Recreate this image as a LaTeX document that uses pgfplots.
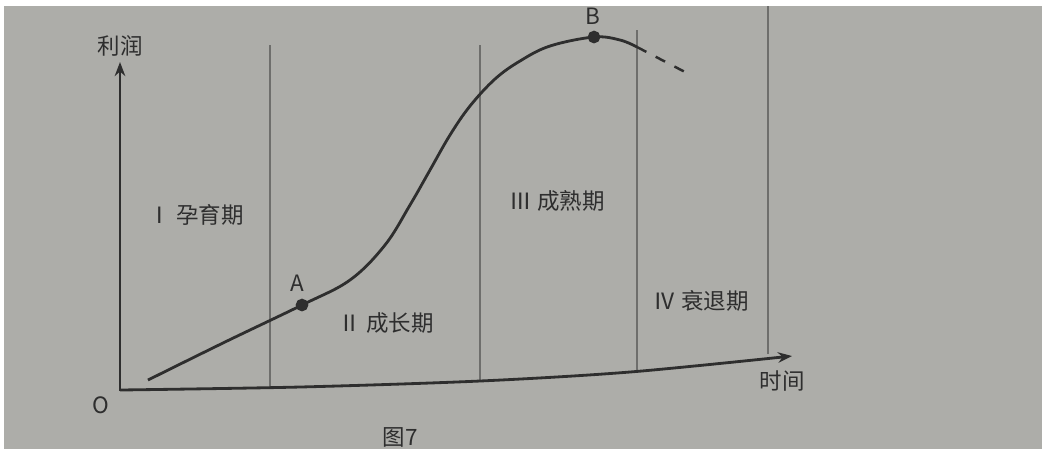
\documentclass[border=0pt]{standalone}
\usepackage{pgfplots}
\pgfplotsset{compat=1.18}
\usepackage{fontspec}
\setmainfont{Liberation Serif}
\newfontfamily\cjk{Noto Sans CJK SC}
\usetikzlibrary{arrows.meta}
\definecolor{paper}{HTML}{ADADA9}
\definecolor{ink}{HTML}{2E2E2E}
\definecolor{rule}{HTML}{6E6E6C}
\newcommand{\lbl}{\cjk\fontsize{6.4}{7}\selectfont}
\begin{document}
\begin{tikzpicture}
\begin{axis}[
    scale only axis,
    width=10.48cm, height=4.49cm,
    xmin=0, xmax=1048, ymin=0, ymax=449,
    y dir=reverse,
    axis lines=none,
    clip=false,
]
% paper
\fill[paper] (axis cs:4,6) rectangle (axis cs:1042,449);

% stage dividers
\addplot[rule, line width=0.35pt] coordinates {(270,45)(270,387)};
\addplot[rule, line width=0.35pt] coordinates {(480,45)(480,380)};
\addplot[rule, line width=0.35pt] coordinates {(637,30)(637,371)};
\addplot[rule, line width=0.35pt] coordinates {(768,6)(768,354)};

% axes
\addplot[ink, line width=0.8pt, -{Stealth[length=4pt,width=3pt]}] coordinates {(120,391)(120,62)};
\addplot[ink, line width=0.8pt, smooth, -{Stealth[length=4pt,width=3pt]}] coordinates {
  (120,390)(300,387)(480,381)(630,372)(792,356)
};

% life-cycle curve
\addplot[ink, line width=0.8pt, smooth, tension=0.6] coordinates {
  (148,380)(225,342)(302,305)(350,280)(385,245)(410,205)(430,170)(450,135)
  (470,106)(495,79)(520,61)(550,46)(594,37)(620,40)(637,47)
};
\addplot[ink, line width=0.7pt, dashed, smooth] coordinates {
  (637,47)(660,59)(685,72)
};
\addplot[only marks, mark=*, mark size=1.6pt, ink] coordinates {(302,305)(594,37)};

% labels
\node[text=ink] at (axis cs:120,46) {\lbl 利润};
\node[text=ink] at (axis cs:101,405) {\lbl O};
\node[text=ink] at (axis cs:782,381) {\lbl 时间};
\node[text=ink] at (axis cs:297,283) {\lbl A};
\node[text=ink] at (axis cs:593,16) {\lbl B};
\node[text=ink] at (axis cs:196,215) {\lbl Ⅰ 孕育期};
\node[text=ink] at (axis cs:386,323) {\lbl Ⅱ 成长期};
\node[text=ink] at (axis cs:557,201) {\lbl Ⅲ 成熟期};
\node[text=ink] at (axis cs:701,301) {\lbl Ⅳ 衰退期};
\node[text=ink] at (axis cs:400,437) {\lbl 图7};
\end{axis}
\pgfresetboundingbox
\path (current axis.south west) rectangle (current axis.north east);
\end{tikzpicture}
\end{document}
